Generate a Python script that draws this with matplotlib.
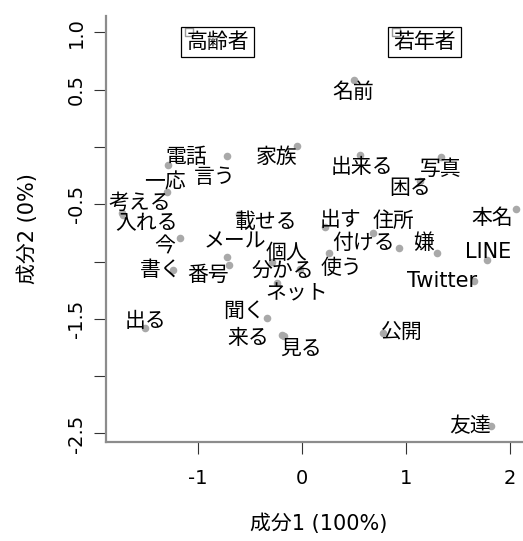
import matplotlib
matplotlib.use("Agg")
import matplotlib.pyplot as plt
from matplotlib.ticker import FixedLocator, FixedFormatter

plt.rcParams["font.family"] = ["DejaVu Sans", "Noto Sans CJK JP"]
plt.rcParams["axes.unicode_minus"] = False

# column (word) scores on the first two components
words = ["名前", "家族", "電話", "言う", "一応", "考える", "入れる", "今",
         "書く", "番号", "メール", "載せる", "個人", "分かる", "ネット", "聞く",
         "出る", "来る", "見る", "出来る", "写真", "困る", "出す", "住所",
         "付ける", "使う", "嫌", "本名", "LINE", "Twitter", "公開", "友達"]
comp1 = [0.502, -0.048, -1.281, -0.720, -1.297, -1.729, -1.717, -1.169,
         -1.233, -0.695, -0.720, -0.599, -0.288, -0.016, -0.242, -0.336,
         -1.505, -0.186, -0.175, 0.560, 1.335, 1.136, 0.224, 0.688,
         0.938, 0.265, 1.297, 2.059, 1.783, 1.655, 0.778, 1.816]
comp2 = [0.584, 0.010, -0.158, -0.079, -0.394, -0.579, -0.594, -0.791,
         -1.074, -1.030, -0.963, -0.586, -1.002, -1.065, -1.187, -1.497,
         -1.576, -1.641, -1.654, -0.071, -0.086, -0.298, -0.702, -0.754,
         -0.885, -0.928, -0.928, -0.545, -0.987, -1.170, -1.627, -2.435]

# row (group) scores
groups = ["高齢者", "若年者"]
group_c1 = [-1.083, 0.906]
group_c2 = [1.003, 1.003]

# label offsets from each point, in pixels
label_offsets = [(-1, -12), (-20, -11), (18, 8), (-12, -21), (-2, 9), (18, 10),
                 (24, -8), (-15, -9), (-13, 0), (-21, -10), (8, 16), (27, -8),
                 (15, 9), (-17, -2), (20, -10), (-23, 8), (0, 7), (-34, -3),
                 (18, -12), (2, -12), (0, -12), (-10, -7), (15, 7), (20, 12),
                 (-36, 5), (12, -15), (-13, 10), (-24, -9), (1, 8), (-32, 0),
                 (19, 0), (-21, 0)]

y_ticks = [1.0, 0.5, 0.0, -0.5, -1.0, -1.5, -2.0, -2.5]
y_ticklabels = ["1.0", "0.5", "", "-0.5", "", "-1.5", "", "-2.5"]
x_ticks = [-1, 0, 1, 2]
x_ticklabels = ["-1", "0", "1", "2"]


def main():
    W, H = 523, 541
    fig = plt.figure(figsize=(W / 100, H / 100), dpi=100)
    # plot region runs past the right edge of the canvas
    left, right, top, bottom = 105.9, 531.9, 16.3, 441.8
    ax = fig.add_axes([left / W, (H - bottom) / H,
                       (right - left) / W, (bottom - top) / H])
    ax.set_xlim(-1.881, 2.211)
    ax.set_ylim(-2.573, 1.140)

    for side in ["top", "right"]:
        ax.spines[side].set_visible(False)
    for side in ["left", "bottom"]:
        ax.spines[side].set_color("#8c8c8c")
        ax.spines[side].set_linewidth(1.6)

    ax.scatter(comp1, comp2, s=30, color="#a9a9a9", linewidths=0, zorder=2)
    for w, x, y, (dx, dy) in zip(words, comp1, comp2, label_offsets):
        ax.annotate(w, (x, y), xytext=(dx, dy), textcoords="offset pixels",
                    ha="center", va="center", fontsize=15, color="black",
                    zorder=3)

    ax.scatter(group_c1, group_c2, marker="s", s=40, facecolors="none",
               edgecolors="#9a9a9a", linewidths=1.0, zorder=2)
    for g, x, y in zip(groups, group_c1, group_c2):
        ax.annotate(g, (x, y), xytext=(28.5, -10), textcoords="offset pixels",
                    ha="center", va="center", fontsize=15, color="black",
                    bbox=dict(boxstyle="square,pad=0.25", fc="none",
                              ec="black", lw=0.9),
                    zorder=3)

    ax.xaxis.set_major_locator(FixedLocator(x_ticks))
    ax.xaxis.set_major_formatter(FixedFormatter(x_ticklabels))
    ax.yaxis.set_major_locator(FixedLocator(y_ticks))
    ax.yaxis.set_major_formatter(FixedFormatter(y_ticklabels))
    ax.tick_params(axis="both", direction="out", length=8.6, width=0.8,
                   color="#333333", labelsize=14)
    ax.tick_params(axis="x", pad=11)
    ax.tick_params(axis="y", pad=6)
    for lab in ax.get_yticklabels():
        lab.set_rotation(90)
        lab.set_va("center")

    ax.set_xlabel("成分1 (100%)", fontsize=15)
    ax.xaxis.set_label_coords(0.5, -0.193)
    ax.xaxis.label.set_va("center")
    ax.set_ylabel("成分2 (0%)", fontsize=15)
    ax.yaxis.set_label_coords(-0.183, 0.5)
    ax.yaxis.label.set_va("center")

    fig.savefig("out.png", dpi=100)


if __name__ == "__main__":
    main()
